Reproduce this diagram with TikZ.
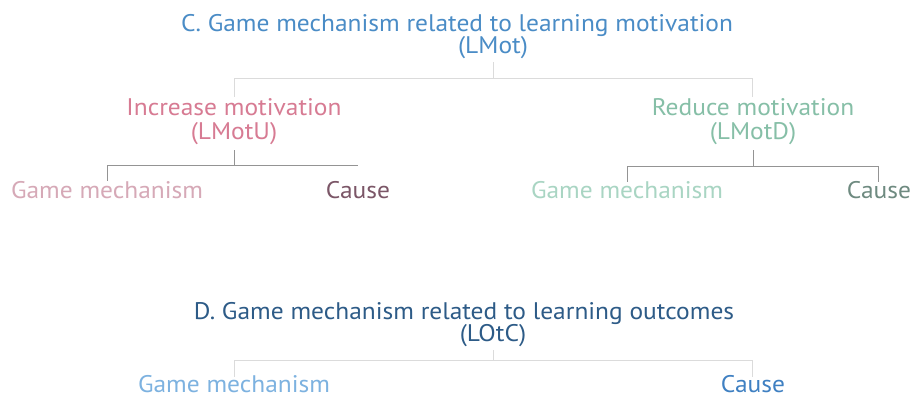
\documentclass[tikz,border=0pt]{standalone}
\usepackage{fontspec}
\setmainfont[FakeStretch=1.06]{PT Sans}
\begin{document}
\definecolor{cTitle}{HTML}{4A8CC6}
\definecolor{cInc}{HTML}{D77B93}
\definecolor{cGmL}{HTML}{D6A9B7}
\definecolor{cCauseL}{HTML}{7B5667}
\definecolor{cRed}{HTML}{86BFA7}
\definecolor{cGmR}{HTML}{A9D5C3}
\definecolor{cCauseR}{HTML}{6E8A80}
\definecolor{dTitle}{HTML}{2D5B87}
\definecolor{dGm}{HTML}{7DB2E0}
\definecolor{dCause}{HTML}{3F80C2}
\begin{tikzpicture}[x=1pt,y=-1pt,
  lbl/.style={inner sep=0pt,anchor=base,font=\fontsize{24}{28}\selectfont},
  lightline/.style={draw=black!14,line width=0.9pt},
  darkline/.style={draw=black!42,line width=0.9pt}]
\useasboundingbox[fill=white] (0,0) rectangle (914,398);
% C
\node[lbl,text=cTitle] (ct) at (457,32) {C. Game mechanism related to learning motivation};
\node[lbl,text=cTitle] (lmot) at (493,54) {(LMot)};
\node[lbl,text=cInc] (inc) at (234,116) {Increase motivation};
\node[lbl,text=cInc] (incu) at (234,140) {(LMotU)};
\node[lbl,text=cRed] (red) at (753,116) {Reduce motivation};
\node[lbl,text=cRed] (redd) at (753,140) {(LMotD)};
\node[lbl,text=cGmL] (gml) at (107,199) {Game mechanism};
\node[lbl,text=cCauseL] (cal) at (358,199) {Cause};
\node[lbl,text=cGmR] (gmr) at (627,199) {Game mechanism};
\node[lbl,text=cCauseR] (car) at (879,199) {Cause};
% D
\node[lbl,text=dTitle] (dt) at (464,320) {D. Game mechanism related to learning outcomes};
\node[lbl,text=dTitle] (lotc) at (493,342) {(LOtC)};
\node[lbl,text=dGm] (gmd) at (234,392) {Game mechanism};
\node[lbl,text=dCause] (cad) at (753,392) {Cause};
% C connectors
\coordinate (cl) at (234,78);
\coordinate (cr) at (752,78);
\draw[lightline] (lmot.south) ++(0,3) -- (lmot.south |- cl);
\draw[lightline] (inc.north |- 0,97) -- (cl) -- (cr) -- (cr |- 0,97);
\coordinate (il) at (107,165);
\coordinate (ir) at (358,165);
\draw[darkline] (incu.south) ++(0,5) -- (incu.south |- il);
\draw[darkline] (gml.north |- 0,181) -- (il) -- (ir);
\coordinate (rl) at (627,166);
\coordinate (rr) at (878,166);
\draw[darkline] (redd.south) ++(0,5) -- (redd.south |- rl);
\draw[darkline] (gmr.north |- 0,182) -- (rl) -- (rr) -- (rr |- 0,182);
% D connectors
\coordinate (dl) at (234,360);
\coordinate (dr) at (752,360);
\draw[lightline] (lotc.south) ++(0,3) -- (lotc.south |- dl);
\draw[lightline] (gmd.north |- 0,377) -- (dl) -- (dr) -- (dr |- 0,377);
\end{tikzpicture}
\end{document}
